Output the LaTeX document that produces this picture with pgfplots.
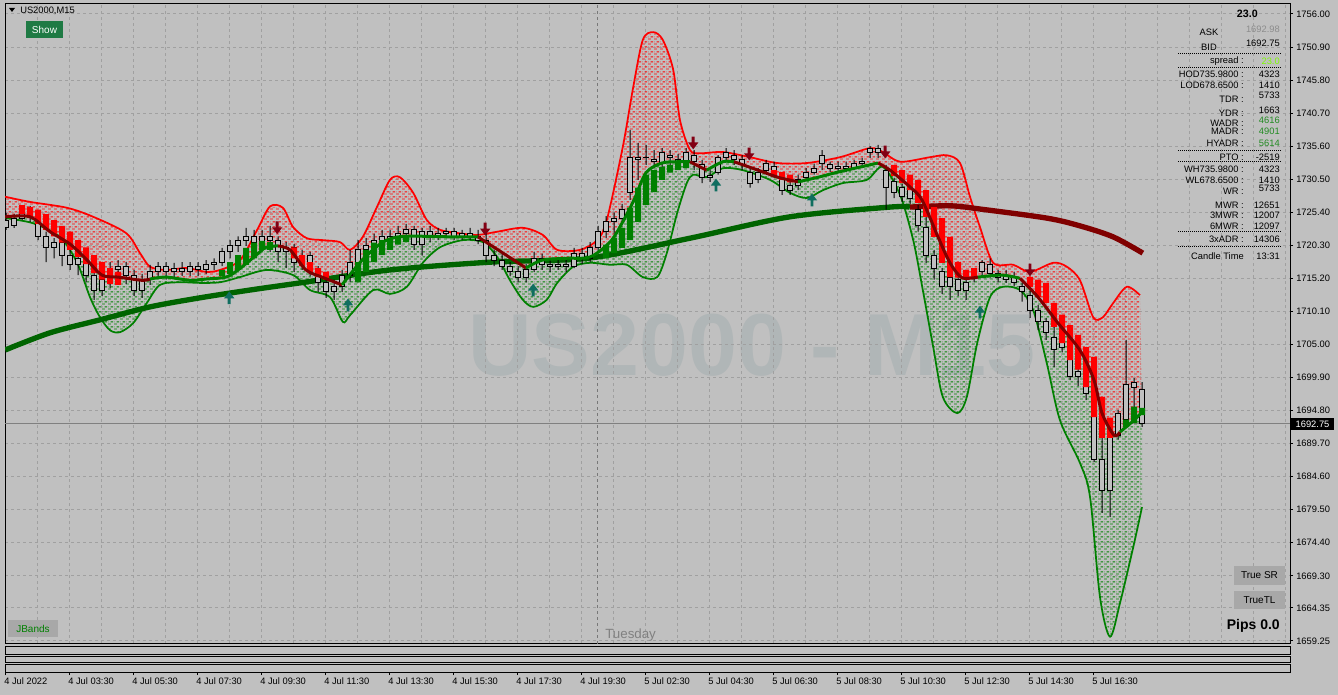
\documentclass[border=0pt]{standalone}
\usepackage{fontspec}
\setmainfont{Liberation Sans}
\usepackage{pgfplots}
\pgfplotsset{compat=1.18}
\usepackage{pgfplotstable}
\usetikzlibrary{patterns}

\definecolor{bgc}{RGB}{192,192,192}
\definecolor{gridc}{RGB}{160,160,160}
\definecolor{sepc}{RGB}{120,120,120}
\definecolor{wmc}{RGB}{176,182,183}
\definecolor{mred}{RGB}{128,0,0}
\definecolor{mgreen}{RGB}{0,100,0}
\definecolor{jgreen}{RGB}{0,128,0}
\definecolor{jred}{RGB}{255,0,0}
\definecolor{dnc}{RGB}{130,0,20}
\definecolor{upc}{RGB}{16,110,96}
\definecolor{showc}{RGB}{31,122,68}
\definecolor{btnc}{RGB}{168,168,168}
\definecolor{valgreen}{RGB}{34,139,34}
\definecolor{limec}{RGB}{124,252,0}
\definecolor{askc}{RGB}{140,140,140}

\newcommand\tickfont{\fontsize{7}{8}\selectfont}

% dashed fan texture
\pgfdeclarepatternformonly{fandash}{\pgfpointorigin}{\pgfpoint{4.5pt}{3.75pt}}{\pgfpoint{4.5pt}{3.75pt}}{%
  \pgfsetlinewidth{0.75pt}%
  \pgfpathmoveto{\pgfpoint{0pt}{0.94pt}}\pgfpathlineto{\pgfpoint{2.6pt}{0.94pt}}%
  \pgfpathmoveto{\pgfpoint{2.25pt}{2.8pt}}\pgfpathlineto{\pgfpoint{4.5pt}{2.8pt}}%
  \pgfpathmoveto{\pgfpoint{0pt}{2.8pt}}\pgfpathlineto{\pgfpoint{0.35pt}{2.8pt}}%
  \pgfusepath{stroke}}

\pgfdeclareplotmark{dnarrow}{%
  \pgfpathmoveto{\pgfpoint{-1.1pt}{4.8pt}}\pgfpathlineto{\pgfpoint{1.1pt}{4.8pt}}%
  \pgfpathlineto{\pgfpoint{1.1pt}{0.4pt}}\pgfpathlineto{\pgfpoint{3.9pt}{0.4pt}}%
  \pgfpathlineto{\pgfpoint{0pt}{-4.8pt}}\pgfpathlineto{\pgfpoint{-3.9pt}{0.4pt}}%
  \pgfpathlineto{\pgfpoint{-1.1pt}{0.4pt}}\pgfpathclose\pgfusepathqfill}
\pgfdeclareplotmark{uparrow}{%
  \pgfpathmoveto{\pgfpoint{-1.1pt}{-4.8pt}}\pgfpathlineto{\pgfpoint{1.1pt}{-4.8pt}}%
  \pgfpathlineto{\pgfpoint{1.1pt}{-0.4pt}}\pgfpathlineto{\pgfpoint{3.9pt}{-0.4pt}}%
  \pgfpathlineto{\pgfpoint{0pt}{4.8pt}}\pgfpathlineto{\pgfpoint{-3.9pt}{-0.4pt}}%
  \pgfpathlineto{\pgfpoint{-1.1pt}{-0.4pt}}\pgfpathclose\pgfusepathqfill}

% upper band
\pgfplotstableread{
i p
-0.1 1727.8
3 1727.0
7.6 1726.1
10.9 1724.7
15 1722.2
16.75 1719.1
18 1717.0
20 1716.5
22.6 1716.8
25 1716.2
26.75 1716.5
29.25 1718.0
31.4 1722.7
33 1726.3
34.6 1726.1
35.9 1723.1
37.6 1721.4
39.6 1721.1
41.75 1720.8
43 1719.6
44.6 1721.6
46.4 1726.3
48 1730.4
49.25 1730.8
50.9 1728.4
52.6 1724.2
54.25 1722.7
56.4 1722.2
58.9 1721.9
61.4 1722.4
64.6 1723.0
67.1 1721.9
68.9 1719.6
71.75 1719.6
73.9 1721.1
75.1 1724.2
77.1 1735.5
78.4 1744.7
79.6 1752.0
80.9 1753.2
82.1 1752.0
83.4 1747.4
84.25 1739.6
85.5 1735.0
86.75 1734.5
89.6 1734.7
93 1733.9
96.4 1733.0
100.1 1733.0
104.25 1733.9
108 1735.3
109.6 1734.7
111.75 1733.2
115.5 1733.9
117.6 1734.2
119.25 1733.0
120.5 1727.8
121.75 1723.1
123.4 1717.6
125.9 1717.3
128 1716.2
130.9 1717.6
132.6 1717.0
134.25 1714.9
135.9 1709.2
137.1 1709.2
138.4 1711.4
140.1 1713.9
141.75 1712.6
}\tabU

% middle line
\pgfplotstableread{
i p
-0.1 1724.7
3 1724.7
5.5 1722.4
8 1720.5
10 1718.2
12 1715.7
14 1715.4
17 1714.9
18 1715.1
20 1715.4
23 1714.9
25 1715.1
27.5 1715.4
29 1716.5
31 1718.5
32.5 1720.0
34 1720.2
35.5 1719.6
37.5 1716.5
39.5 1715.4
42 1714.2
44.5 1718.0
47 1720.7
49 1721.6
52 1721.7
56 1721.6
59 1721.6
61.5 1719.6
64 1717.6
65 1716.8
67 1718.0
70 1718.3
73 1718.5
75.5 1720.8
77 1723.7
78.5 1727.3
80 1731.5
82 1733.0
84 1733.2
85.5 1733.2
86.75 1732.4
87.6 1731.9
89.6 1733.2
91 1733.2
94 1731.9
96.5 1730.8
99 1730.1
101.5 1730.8
104 1731.6
109 1733.0
110.5 1731.9
113 1729.3
114.5 1727.3
116.5 1721.6
118 1717.6
119.5 1715.3
121.5 1715.4
124.5 1715.7
126.75 1715.2
129 1712.3
131.5 1708.3
134.25 1704.1
136 1699.5
137 1694.4
138.5 1691.0
139.25 1691.5
141 1693.3
142 1694.6
}\tabM

% lower band
\pgfplotstableread{
i p
-0.1 1724.5
3.4 1723.7
6.75 1721.6
8.9 1717.6
10.5 1712.3
11.75 1709.2
13 1707.2
14.25 1706.9
15.9 1708.3
17.6 1711.4
19.25 1714.2
21.75 1714.6
24.25 1714.5
26.75 1714.6
29.25 1715.4
32.6 1716.5
35.9 1715.7
38 1713.4
40.5 1712.3
42.1 1708.5
43 1709.5
45.9 1713.4
48 1712.8
50.1 1713.9
52.1 1717.6
54.25 1720.0
57.1 1721.1
59.6 1720.8
61.4 1718.5
63 1714.9
64.6 1711.9
65.9 1710.8
67.6 1711.9
68.9 1714.5
70.9 1717.0
73 1717.6
75.5 1717.3
77.6 1717.3
79.6 1715.4
81.4 1715.4
82.6 1719.1
83.9 1725.3
85.1 1729.9
85.9 1731.2
87.6 1730.8
89.6 1732.2
92.1 1731.9
95.5 1730.4
98 1728.4
100.1 1727.6
102.1 1728.8
104.6 1729.9
107.6 1730.4
109.6 1732.4
111.75 1728.1
113.4 1721.1
114.6 1713.4
115.9 1704.6
117.1 1696.9
118.9 1694.4
120.1 1696.9
121.4 1705.2
123 1712.3
124.6 1713.9
126.75 1713.4
128.4 1710.3
130.1 1702.1
131.75 1693.3
134.25 1686.7
135.5 1681.5
136.75 1666.0
138 1659.9
139.25 1665.1
140.9 1673.7
142 1679.9
}\tabL

% outline of the upper fan: upper band, then middle line backwards
\pgfplotstableread{
i p
-0.1 1727.8
3 1727.0
7.6 1726.1
10.9 1724.7
15 1722.2
16.75 1719.1
18 1717.0
20 1716.5
22.6 1716.8
25 1716.2
26.75 1716.5
29.25 1718.0
31.4 1722.7
33 1726.3
34.6 1726.1
35.9 1723.1
37.6 1721.4
39.6 1721.1
41.75 1720.8
43 1719.6
44.6 1721.6
46.4 1726.3
48 1730.4
49.25 1730.8
50.9 1728.4
52.6 1724.2
54.25 1722.7
56.4 1722.2
58.9 1721.9
61.4 1722.4
64.6 1723.0
67.1 1721.9
68.9 1719.6
71.75 1719.6
73.9 1721.1
75.1 1724.2
77.1 1735.5
78.4 1744.7
79.6 1752.0
80.9 1753.2
82.1 1752.0
83.4 1747.4
84.25 1739.6
85.5 1735.0
86.75 1734.5
89.6 1734.7
93 1733.9
96.4 1733.0
100.1 1733.0
104.25 1733.9
108 1735.3
109.6 1734.7
111.75 1733.2
115.5 1733.9
117.6 1734.2
119.25 1733.0
120.5 1727.8
121.75 1723.1
123.4 1717.6
125.9 1717.3
128 1716.2
130.9 1717.6
132.6 1717.0
134.25 1714.9
135.9 1709.2
137.1 1709.2
138.4 1711.4
140.1 1713.9
141.75 1712.6
142 1694.6
141 1693.3
139.25 1691.5
138.5 1691.0
137 1694.4
136 1699.5
134.25 1704.1
131.5 1708.3
129 1712.3
126.75 1715.2
124.5 1715.7
121.5 1715.4
119.5 1715.3
118 1717.6
116.5 1721.6
114.5 1727.3
113 1729.3
110.5 1731.9
109 1733.0
104 1731.6
101.5 1730.8
99 1730.1
96.5 1730.8
94 1731.9
91 1733.2
89.6 1733.2
87.6 1731.9
86.75 1732.4
85.5 1733.2
84 1733.2
82 1733.0
80 1731.5
78.5 1727.3
77 1723.7
75.5 1720.8
73 1718.5
70 1718.3
67 1718.0
65 1716.8
64 1717.6
61.5 1719.6
59 1721.6
56 1721.6
52 1721.7
49 1721.6
47 1720.7
44.5 1718.0
42 1714.2
39.5 1715.4
37.5 1716.5
35.5 1719.6
34 1720.2
32.5 1720.0
31 1718.5
29 1716.5
27.5 1715.4
25 1715.1
23 1714.9
20 1715.4
18 1715.1
17 1714.9
14 1715.4
12 1715.7
10 1718.2
8 1720.5
5.5 1722.4
3 1724.7
-0.1 1724.7
}\tabPR

% outline of the lower fan: lower band, then middle line backwards
\pgfplotstableread{
i p
-0.1 1724.5
3.4 1723.7
6.75 1721.6
8.9 1717.6
10.5 1712.3
11.75 1709.2
13 1707.2
14.25 1706.9
15.9 1708.3
17.6 1711.4
19.25 1714.2
21.75 1714.6
24.25 1714.5
26.75 1714.6
29.25 1715.4
32.6 1716.5
35.9 1715.7
38 1713.4
40.5 1712.3
42.1 1708.5
43 1709.5
45.9 1713.4
48 1712.8
50.1 1713.9
52.1 1717.6
54.25 1720.0
57.1 1721.1
59.6 1720.8
61.4 1718.5
63 1714.9
64.6 1711.9
65.9 1710.8
67.6 1711.9
68.9 1714.5
70.9 1717.0
73 1717.6
75.5 1717.3
77.6 1717.3
79.6 1715.4
81.4 1715.4
82.6 1719.1
83.9 1725.3
85.1 1729.9
85.9 1731.2
87.6 1730.8
89.6 1732.2
92.1 1731.9
95.5 1730.4
98 1728.4
100.1 1727.6
102.1 1728.8
104.6 1729.9
107.6 1730.4
109.6 1732.4
111.75 1728.1
113.4 1721.1
114.6 1713.4
115.9 1704.6
117.1 1696.9
118.9 1694.4
120.1 1696.9
121.4 1705.2
123 1712.3
124.6 1713.9
126.75 1713.4
128.4 1710.3
130.1 1702.1
131.75 1693.3
134.25 1686.7
135.5 1681.5
136.75 1666.0
138 1659.9
139.25 1665.1
140.9 1673.7
142 1679.9
142 1694.6
141 1693.3
139.25 1691.5
138.5 1691.0
137 1694.4
136 1699.5
134.25 1704.1
131.5 1708.3
129 1712.3
126.75 1715.2
124.5 1715.7
121.5 1715.4
119.5 1715.3
118 1717.6
116.5 1721.6
114.5 1727.3
113 1729.3
110.5 1731.9
109 1733.0
104 1731.6
101.5 1730.8
99 1730.1
96.5 1730.8
94 1731.9
91 1733.2
89.6 1733.2
87.6 1731.9
86.75 1732.4
85.5 1733.2
84 1733.2
82 1733.0
80 1731.5
78.5 1727.3
77 1723.7
75.5 1720.8
73 1718.5
70 1718.3
67 1718.0
65 1716.8
64 1717.6
61.5 1719.6
59 1721.6
56 1721.6
52 1721.7
49 1721.6
47 1720.7
44.5 1718.0
42 1714.2
39.5 1715.4
37.5 1716.5
35.5 1719.6
34 1720.2
32.5 1720.0
31 1718.5
29 1716.5
27.5 1715.4
25 1715.1
23 1714.9
20 1715.4
18 1715.1
17 1714.9
14 1715.4
12 1715.7
10 1718.2
8 1720.5
5.5 1722.4
3 1724.7
-0.1 1724.7
}\tabPG

% slow moving average
\pgfplotstableread{
i p
-0.1 1704.15
5.5 1706.8
11.75 1708.8
18 1710.8
24.25 1712.2
30.5 1713.4
36.75 1714.5
48 1716.5
60.5 1717.7
73 1718.35
85.5 1721.4
98 1724.7
110.5 1726.2
113 1726.2
118 1726.4
121.75 1725.9
130.1 1724.5
134.25 1723.3
138.4 1721.6
142.1 1719.1
}\tabMA

% candles: bar open high low close
\pgfplotstableread{
i o h l c
0 1723.0 1725.3 1722.7 1724.2
1 1723.3 1725.1 1723.0 1724.5
2 1724.5 1726.1 1724.2 1725.4
3 1725.4 1726.4 1723.9 1724.8
4 1724.5 1725.0 1721.1 1721.7
5 1721.7 1722.4 1717.7 1719.9
6 1719.9 1721.4 1718.3 1720.8
7 1720.8 1721.4 1717.1 1718.7
8 1718.7 1719.9 1716.5 1717.4
9 1717.4 1719.3 1715.7 1718.3
10 1718.3 1719.0 1714.6 1715.6
11 1715.6 1716.5 1711.9 1713.4
12 1713.4 1716.2 1712.5 1715.0
13 1715.0 1717.7 1713.7 1716.5
14 1716.5 1718.0 1715.3 1717.1
15 1717.1 1717.7 1714.3 1715.6
16 1715.6 1716.5 1712.5 1713.4
17 1713.4 1715.9 1712.2 1715.0
18 1715.0 1717.3 1714.2 1716.2
19 1716.2 1717.7 1715.3 1717.1
20 1717.1 1717.7 1715.0 1716.2
21 1716.2 1717.6 1715.3 1716.8
22 1716.8 1717.7 1715.6 1716.2
23 1716.2 1717.7 1715.6 1717.1
24 1717.1 1717.7 1715.6 1716.5
25 1716.5 1718.0 1715.9 1717.3
26 1717.3 1718.3 1716.5 1717.7
27 1717.7 1719.9 1717.1 1719.3
28 1719.3 1721.1 1718.3 1720.2
29 1720.2 1721.7 1719.3 1721.1
30 1721.1 1723.0 1720.2 1721.7
31 1721.7 1722.7 1719.9 1720.8
32 1720.8 1722.7 1720.2 1721.7
33 1721.7 1723.3 1719.3 1721.1
34 1721.1 1721.7 1717.7 1719.3
35 1719.3 1720.8 1716.8 1719.9
36 1719.9 1720.5 1716.2 1717.7
37 1717.7 1719.6 1716.5 1718.7
38 1718.7 1719.3 1715.6 1716.5
39 1716.5 1717.1 1713.1 1714.6
40 1714.6 1715.3 1712.2 1713.1
41 1713.1 1715.0 1711.9 1714.0
42 1714.0 1716.5 1713.1 1715.6
43 1715.6 1719.6 1714.6 1717.7
44 1717.7 1721.1 1716.8 1719.6
45 1719.6 1721.4 1718.3 1720.2
46 1720.2 1722.1 1719.3 1721.1
47 1721.1 1722.7 1719.9 1721.7
48 1721.7 1722.7 1720.2 1721.1
49 1721.1 1723.3 1720.5 1722.1
50 1722.1 1723.6 1721.1 1722.7
51 1722.7 1723.3 1719.6 1720.5
52 1720.5 1723.0 1718.7 1722.4
53 1722.4 1723.3 1720.8 1721.7
54 1721.7 1723.0 1721.1 1722.1
55 1722.1 1723.0 1721.4 1722.4
56 1722.4 1723.0 1721.1 1721.7
57 1721.7 1722.7 1721.1 1722.1
58 1722.1 1723.0 1721.1 1721.7
59 1721.7 1722.7 1720.5 1721.1
60 1721.1 1722.4 1717.7 1718.7
61 1718.7 1719.6 1717.1 1718.0
62 1718.0 1719.0 1716.5 1717.1
63 1717.1 1717.7 1715.6 1716.2
64 1716.2 1717.1 1714.6 1715.3
65 1715.3 1717.4 1714.6 1716.5
66 1716.5 1719.3 1716.2 1718.3
67 1718.3 1719.0 1716.5 1717.4
68 1717.4 1718.3 1716.2 1717.1
69 1717.1 1718.3 1716.5 1717.4
70 1717.4 1718.3 1716.2 1717.1
71 1717.1 1719.9 1716.8 1719.0
72 1719.0 1719.9 1717.4 1718.3
73 1718.3 1720.8 1717.7 1719.9
74 1719.9 1723.3 1719.3 1722.4
75 1722.4 1724.8 1721.4 1723.9
76 1723.9 1725.4 1722.1 1724.5
77 1724.5 1726.7 1723.9 1725.8
78 1728.4 1738.1 1727.3 1733.9
79 1733.5 1736.1 1730.4 1733.9
80 1733.9 1735.8 1732.7 1733.8
81 1733.5 1735.0 1732.2 1733.2
82 1733.0 1735.3 1732.2 1734.6
83 1734.1 1735.0 1732.5 1733.8
84 1733.5 1734.4 1732.2 1733.0
85 1733.0 1735.3 1732.2 1734.6
86 1734.2 1735.0 1731.9 1733.2
87 1732.7 1733.5 1729.9 1730.7
88 1730.7 1731.9 1730.1 1731.0
89 1731.6 1734.2 1731.2 1733.8
90 1733.8 1735.3 1733.2 1734.7
91 1734.2 1735.0 1732.7 1733.5
92 1733.5 1734.2 1731.9 1732.7
93 1731.6 1732.2 1729.2 1729.9
94 1730.4 1732.2 1729.9 1731.5
95 1731.9 1733.5 1731.6 1732.9
96 1732.4 1733.2 1730.7 1731.6
97 1730.4 1731.2 1728.1 1728.8
98 1729.6 1730.4 1728.1 1728.8
99 1729.5 1731.2 1728.8 1730.4
100 1730.7 1732.2 1730.4 1731.6
101 1731.6 1732.9 1731.2 1732.2
102 1733.0 1735.0 1731.9 1734.2
103 1732.7 1733.2 1731.6 1732.2
104 1732.2 1733.2 1731.6 1732.5
105 1732.5 1733.2 1731.6 1732.2
106 1732.2 1733.5 1731.9 1732.9
107 1732.9 1733.8 1732.2 1733.2
108 1734.6 1735.6 1733.8 1735.3
109 1735.3 1735.8 1733.8 1734.7
110 1731.9 1732.7 1725.8 1729.3
111 1730.1 1730.7 1727.6 1728.5
112 1729.2 1729.8 1727.0 1727.9
113 1729.2 1730.1 1726.7 1727.6
114 1725.8 1726.5 1722.4 1723.3
115 1723.0 1727.6 1717.6 1718.7
116 1718.7 1719.6 1715.0 1716.8
117 1716.2 1716.8 1712.8 1714.0
118 1715.3 1716.2 1711.9 1713.9
119 1715.0 1715.7 1712.5 1713.4
120 1714.6 1715.6 1711.9 1713.4
121 1715.3 1716.2 1714.6 1715.6
122 1716.2 1718.0 1715.6 1717.6
123 1716.0 1718.3 1715.3 1717.4
124 1715.9 1716.5 1714.6 1715.3
125 1715.7 1716.5 1714.5 1715.1
126 1715.3 1716.2 1714.0 1714.6
127 1713.9 1714.6 1711.6 1713.1
128 1712.5 1713.4 1709.1 1710.3
129 1710.3 1711.1 1707.2 1708.5
130 1708.5 1709.1 1705.7 1706.8
131 1704.2 1708.3 1701.5 1706.0
132 1706.0 1707.0 1703.8 1704.6
133 1704.9 1705.7 1699.5 1700.1
134 1700.8 1701.7 1698.6 1700.1
135 1699.8 1700.8 1696.4 1697.5
136 1697.2 1698.0 1686.9 1687.2
137 1687.2 1691.8 1679.0 1682.5
138 1682.5 1693.4 1678.4 1691.5
139 1690.9 1694.9 1690.3 1694.3
140 1693.4 1705.7 1693.0 1698.9
141 1698.4 1699.8 1694.6 1699.2
142 1698.0 1699.2 1692.3 1692.75
}\tabC

% smoothed bodies, bear side
\pgfplotstableread{
i lo hi
2 1725.1 1726.5
3 1724.5 1726.2
4 1723.6 1725.8
5 1722.7 1725.1
6 1721.7 1724.2
7 1720.7 1723.3
8 1719.6 1722.4
9 1718.5 1721.1
10 1717.4 1720.0
11 1716.0 1718.8
12 1715.0 1717.7
13 1714.3 1716.8
14 1714.2 1716.2
36 1718.3 1720.0
37 1717.1 1718.8
38 1716.2 1717.7
39 1715.4 1716.8
40 1715.0 1716.2
96 1730.9 1731.9
97 1730.4 1731.6
98 1730.0 1731.2
111 1731.0 1732.7
112 1729.9 1731.9
113 1728.8 1731.2
114 1726.8 1730.4
115 1724.7 1728.8
116 1721.6 1726.2
117 1717.6 1724.5
118 1715.4 1721.6
119 1715.3 1717.7
120 1715.1 1716.5
121 1715.4 1716.8
128 1713.9 1715.4
129 1712.3 1715.0
130 1711.4 1714.5
131 1707.7 1711.4
132 1705.2 1709.6
133 1702.6 1708.0
134 1701.1 1706.5
135 1698.4 1704.6
136 1693.8 1703.1
137 1690.6 1696.9
138 1690.6 1693.7
}\tabHR

% smoothed bodies, bull side
\pgfplotstableread{
i lo hi
27 1715.6 1716.5
28 1715.9 1717.7
29 1716.5 1718.8
30 1717.3 1719.9
31 1718.3 1720.7
32 1719.6 1721.0
33 1719.6 1720.8
44 1714.6 1717.7
45 1716.2 1719.6
46 1717.7 1720.7
47 1718.8 1721.1
48 1719.6 1721.4
49 1720.4 1721.7
50 1720.8 1721.9
75 1718.3 1720.4
76 1719.1 1721.4
77 1719.9 1723.0
78 1721.1 1726.1
79 1723.9 1729.2
80 1726.5 1731.2
81 1728.5 1731.9
82 1730.4 1732.4
83 1731.5 1732.7
84 1731.9 1733.0
85 1732.2 1733.2
140 1692.3 1693.4
141 1692.9 1695.4
142 1694.1 1695.2
}\tabHG

\pgfplotsset{
  chart/.style={scale only axis, width=963.75pt, height=480pt,
    xmin=-0.125, xmax=160.5, ymin=1658.78, ymax=1757.54},
  layer/.style={chart, at={(3.75pt,-3pt)}, anchor=north west, hide axis},
  subwin/.style={scale only axis, width=963.75pt, xmin=-0.125, xmax=160.5,
    ymin=0, ymax=1, ytick=\empty, xtick=\empty,
    axis line style={black, line width=0.75pt}},
}

\begin{document}
\begin{tikzpicture}
\fill[bgc] (0,0) rectangle (1003.5pt,-521.25pt);
\begin{scope}[x=0.75pt,y=-0.75pt]
\node[anchor=base west, inner sep=0pt, text=wmc, font=\fontsize{66}{66}\selectfont\bfseries] at (468,375) {US2000 - M15};
\end{scope}

% price window
\begin{axis}[chart, at={(3.75pt,-3pt)}, anchor=north west,
  axis line style={black, line width=0.75pt},
  xtick={3.875,7.875,...,159.875}, xticklabels={}, xtick style={draw=none},
  ytick={1659.25,1664.35,1669.3,1674.4,1679.5,1684.6,1689.7,1694.8,1699.9,1705,1710.1,1715.2,1720.3,1725.4,1730.5,1735.6,1740.7,1745.8,1750.9,1756},
  yticklabels={1659.25,1664.35,1669.30,1674.40,1679.50,1684.60,1689.70,1694.80,1699.90,1705.00,1710.10,1715.20,1720.30,1725.40,1730.50,1735.60,1740.70,1745.80,1750.90,1756.00},
  ytick pos=right, yticklabel pos=right, tick align=outside,
  major tick length=2.25pt, ytick style={black, line width=0.75pt},
  yticklabel style={font=\tickfont, anchor=west, inner sep=0pt, xshift=2.25pt},
  grid=major, grid style={gridc, line width=0.75pt, dash pattern=on 2.25pt off 2.25pt},
]
\addplot[sepc, line width=0.75pt, dash pattern=on 2.25pt off 2.25pt] coordinates {(73.875,1658.78) (73.875,1757.54)};
\addplot[gray, line width=0.75pt] coordinates {(-0.125,1692.75) (160.5,1692.75)};

% dashed fans between the outer bands and the middle line
\addplot[draw=none, pattern=fandash, pattern color=jred] table[x=i,y=p] {\tabPR} -- cycle;
\addplot[draw=none, pattern=fandash, pattern color=jgreen] table[x=i,y=p] {\tabPG} -- cycle;

\addplot[jred, line width=1.3pt, smooth] table[x=i,y=p] {\tabU};
\addplot[jgreen, line width=1.3pt, smooth] table[x=i,y=p] {\tabL};

\addplot[mgreen, line width=4pt, smooth, restrict x to domain=-1:113.01] table[x=i,y=p] {\tabMA};
\addplot[mred, line width=4pt, smooth, restrict x to domain=112.99:150] table[x=i,y=p] {\tabMA};
\end{axis}

% wicks
\begin{axis}[layer, ybar stacked, bar width=0.75pt]
\addplot[draw=none, fill=none] table[x=i, y=l] {\tabC};
\addplot[draw=none, fill=black] table[x=i, y expr={\thisrow{h}-\thisrow{l}}] {\tabC};
\end{axis}

% candle bodies
\begin{axis}[layer, ybar stacked, bar width=3.75pt]
\addplot[draw=none, fill=none] table[x=i, y expr={min(\thisrow{o},\thisrow{c})}] {\tabC};
\addplot[draw=black, fill=bgc, line width=0.75pt] table[x=i, y expr={abs(\thisrow{c}-\thisrow{o})}] {\tabC};
\end{axis}

% trend bodies
\begin{axis}[layer, ybar stacked, bar width=4.5pt]
\addplot[draw=none, fill=none] table[x=i, y=lo] {\tabHR};
\addplot[draw=none, fill=jred] table[x=i, y expr={\thisrow{hi}-\thisrow{lo}}] {\tabHR};
\end{axis}
\begin{axis}[layer, ybar stacked, bar width=4.5pt]
\addplot[draw=none, fill=none] table[x=i, y=lo] {\tabHG};
\addplot[draw=none, fill=jgreen] table[x=i, y expr={\thisrow{hi}-\thisrow{lo}}] {\tabHG};
\end{axis}

% middle line and signals
\begin{axis}[layer]
\addplot[mred, line width=2.25pt, smooth, restrict x to domain=-1:18.01] table[x=i,y=p] {\tabM};
\addplot[jgreen, line width=2.25pt, smooth, restrict x to domain=17.99:34.01] table[x=i,y=p] {\tabM};
\addplot[mred, line width=2.25pt, smooth, restrict x to domain=33.99:42.01] table[x=i,y=p] {\tabM};
\addplot[jgreen, line width=2.25pt, smooth, restrict x to domain=41.99:59.01] table[x=i,y=p] {\tabM};
\addplot[mred, line width=2.25pt, smooth, restrict x to domain=58.99:65.01] table[x=i,y=p] {\tabM};
\addplot[jgreen, line width=2.25pt, smooth, restrict x to domain=64.99:85.51] table[x=i,y=p] {\tabM};
\addplot[mred, line width=2.25pt, smooth, restrict x to domain=85.49:87.61] table[x=i,y=p] {\tabM};
\addplot[jgreen, line width=2.25pt, smooth, restrict x to domain=87.59:91.01] table[x=i,y=p] {\tabM};
\addplot[mred, line width=2.25pt, smooth, restrict x to domain=90.99:99.01] table[x=i,y=p] {\tabM};
\addplot[jgreen, line width=2.25pt, smooth, restrict x to domain=98.99:109.01] table[x=i,y=p] {\tabM};
\addplot[mred, line width=2.25pt, smooth, restrict x to domain=108.99:121.51] table[x=i,y=p] {\tabM};
\addplot[jgreen, line width=2.25pt, smooth, restrict x to domain=121.49:126.76] table[x=i,y=p] {\tabM};
\addplot[mred, line width=2.25pt, smooth, restrict x to domain=126.74:139.26] table[x=i,y=p] {\tabM};
\addplot[jgreen, line width=2.25pt, smooth, restrict x to domain=139.24:150] table[x=i,y=p] {\tabM};

\addplot[only marks, mark=dnarrow, dnc] coordinates {(33.9,1723.0) (59.9,1722.8) (85.9,1736.1) (92.9,1734.4) (109.9,1734.7) (128,1716.5)};
\addplot[only marks, mark=uparrow, upc] coordinates {(27.9,1712.2) (42.75,1711.1) (65.9,1713.4) (88.75,1729.6) (100.75,1727.3) (121.75,1710.0)};
\end{axis}

% empty sub windows
\begin{axis}[subwin, height=6pt, at={(3.75pt,-484.5pt)}, anchor=north west]
\addplot[draw=none] coordinates {(0,0.5)};
\end{axis}
\begin{axis}[subwin, height=4.5pt, at={(3.75pt,-492pt)}, anchor=north west]
\addplot[draw=none] coordinates {(0,0.5)};
\end{axis}
\begin{axis}[subwin, height=6pt, at={(3.75pt,-498pt)}, anchor=north west,
  xtick={-0.125,7.875,...,135.875},
  xticklabels={4 Jul 2022,4 Jul 03:30,4 Jul 05:30,4 Jul 07:30,4 Jul 09:30,4 Jul 11:30,4 Jul 13:30,4 Jul 15:30,4 Jul 17:30,4 Jul 19:30,5 Jul 02:30,5 Jul 04:30,5 Jul 06:30,5 Jul 08:30,5 Jul 10:30,5 Jul 12:30,5 Jul 14:30,5 Jul 16:30},
  xtick pos=left, tick align=outside, major tick length=2.25pt,
  xtick style={black, line width=0.75pt},
  xticklabel style={font=\tickfont, anchor=north west, inner sep=0pt, xshift=-0.75pt, yshift=-1.5pt}]
\addplot[draw=none] coordinates {(0,0.5)};
\end{axis}

% panel texts and buttons
\begin{scope}[x=0.75pt,y=-0.75pt, every node/.style={inner sep=0pt, font=\tickfont}]
\fill (9,8) -- (15,8) -- (12,12) -- cycle;
\node[anchor=west] at (20,11) {US2000,M15};
\fill[showc] (26,21) rectangle (63,38);
\node[text=white, font=\fontsize{7.5}{8}\selectfont] at (44.5,29.5) {Show};
\fill[btnc] (8,620) rectangle (58,637);
\node[text=jgreen, font=\fontsize{7.5}{8}\selectfont] at (33,628.5) {JBands};
\node[anchor=west, text=gray, font=\fontsize{10}{11}\selectfont] at (605,635) {Tuesday};
\fill[btnc] (1234,566) rectangle (1285,585);
\node[font=\fontsize{7.5}{8}\selectfont] at (1259.5,575.5) {True SR};
\fill[btnc] (1234,591) rectangle (1285,609);
\node[font=\fontsize{7.5}{8}\selectfont] at (1259.5,600) {TrueTL};
\node[anchor=east, font=\fontsize{10.5}{11}\selectfont\bfseries] at (1280,626) {Pips 0.0};
\fill[black] (1291,418) rectangle (1334,430);
\node[text=white] at (1312.5,424) {1692.75};

\node[anchor=east, font=\fontsize{8}{9}\selectfont\bfseries] at (1258,14) {23.0};
\node at (1209,32) {ASK};
\node[anchor=east, text=askc] at (1280,29) {1692.98};
\node at (1209,47) {BID};
\node[anchor=east] at (1280,43) {1692.75};
\foreach \yy in {54,68,151,162,232,247}
  \draw[black, line width=0.75pt, dash pattern=on 0.75pt off 0.75pt] (1178,\yy) -- (1282,\yy);
\node[anchor=east] at (1244,61) {spread :};
\node[anchor=east, text=limec] at (1280,61) {23.0};
\node[anchor=east] at (1244,74) {HOD735.9800 :};
\node[anchor=east] at (1280,74) {4323};
\node[anchor=east] at (1244,85) {LOD678.6500 :};
\node[anchor=east] at (1280,85) {1410};
\node[anchor=east] at (1244,99) {TDR :};
\node[anchor=east] at (1280,95) {5733};
\node[anchor=east] at (1244,113) {YDR :};
\node[anchor=east] at (1280,110) {1663};
\node[anchor=east] at (1244,123) {WADR :};
\node[anchor=east, text=valgreen] at (1280,120) {4616};
\node[anchor=east] at (1244,131) {MADR :};
\node[anchor=east, text=valgreen] at (1280,131) {4901};
\node[anchor=east] at (1244,143) {HYADR :};
\node[anchor=east, text=valgreen] at (1280,143) {5614};
\node[anchor=east] at (1244,157) {PTO :};
\node[anchor=east] at (1280,157) {-2519};
\node[anchor=east] at (1244,169) {WH735.9800 :};
\node[anchor=east] at (1280,169) {4323};
\node[anchor=east] at (1244,180) {WL678.6500 :};
\node[anchor=east] at (1280,180) {1410};
\node[anchor=east] at (1244,191) {WR :};
\node[anchor=east] at (1280,188) {5733};
\node[anchor=east] at (1244,205) {MWR :};
\node[anchor=east] at (1280,205) {12651};
\node[anchor=east] at (1244,215) {3MWR :};
\node[anchor=east] at (1280,215) {12007};
\node[anchor=east] at (1244,226) {6MWR :};
\node[anchor=east] at (1280,226) {12097};
\node[anchor=east] at (1244,239) {3xADR :};
\node[anchor=east] at (1280,239) {14306};
\node[anchor=east] at (1244,256) {Candle Time};
\node[anchor=east] at (1280,256) {13:31};
\end{scope}
\end{tikzpicture}
\end{document}
